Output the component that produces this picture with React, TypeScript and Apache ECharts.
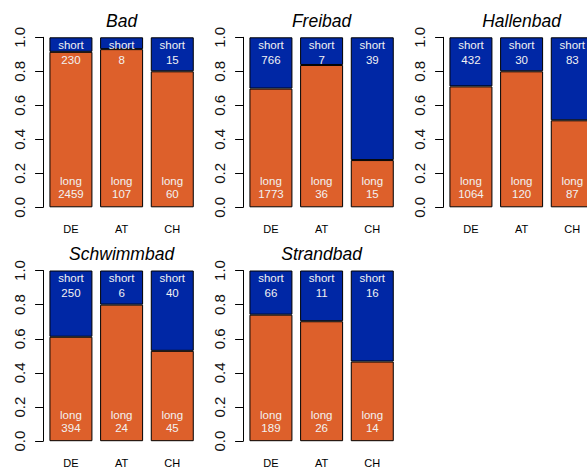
import React, { useEffect, useRef } from "react";
import * as echarts from "echarts";

const panels = ["Bad", "Freibad", "Hallenbad", "Schwimmbad", "Strandbad"];
const countries = ["DE", "AT", "CH"];
const longCounts = [
  [2459, 107, 60],
  [1773, 36, 15],
  [1064, 120, 87],
  [394, 24, 45],
  [189, 26, 14],
];
const shortCounts = [
  [230, 8, 15],
  [766, 7, 39],
  [432, 30, 83],
  [250, 6, 40],
  [66, 11, 16],
];
const yTicks = [0, 0.2, 0.4, 0.6, 0.8, 1.0];

const ORANGE = "#DD602B";
const BLUE = "#0027A5";
const FONT = "'Liberation Sans', Arial, Helvetica, sans-serif";

export default function App() {
  const ref = useRef<HTMLDivElement>(null);
  useEffect(() => {
    if (!ref.current) return;
    const chart = echarts.init(ref.current, null, { renderer: "svg" });
    const colX = [0, 200, 400];
    const rowY = [{ top: 37.3, h: 170 }, { top: 270.5, h: 170.7 }];
    const gridW = 152;
    const gridL = 45.6;
    const grids: any[] = [];
    const xAxes: any[] = [];
    const yAxes: any[] = [];
    const series: any[] = [];
    const graphics: any[] = [];
    panels.forEach((name, p) => {
      const col = p % 3;
      const row = Math.floor(p / 3);
      const left = colX[col] + gridL;
      const { top, h } = rowY[row];
      grids.push({ left, top, width: gridW, height: h, containLabel: false, outerBoundsMode: "none" });
      xAxes.push({
        type: "category",
        gridIndex: p,
        data: countries,
        axisLine: { show: false },
        axisTick: { show: false },
        axisLabel: { color: "#000", fontSize: 11, fontFamily: FONT, margin: 16 },
      });
      yAxes.push({
        type: "value",
        gridIndex: p,
        min: 0,
        max: 1,
        interval: 0.2,
        offset: 2.5,
        axisLine: { show: true, lineStyle: { color: "#000", width: 1 } },
        axisTick: { show: true, length: 8, lineStyle: { color: "#000" } },
        splitLine: { show: false },
        axisLabel: {
          rotate: 90,
          margin: 16,
          fontSize: 15,
          color: "#111",
          fontFamily: FONT,
          formatter: (v: number) => (yTicks.includes(Math.round(v * 10) / 10) ? v.toFixed(1) : ""),
        },
      });
      const totals = longCounts[p].map((l, i) => l + shortCounts[p][i]);
      series.push({
        type: "bar",
        name: "long",
        xAxisIndex: p,
        yAxisIndex: p,
        stack: "s" + p,
        barWidth: 43,
        data: longCounts[p].map((l, i) => l / totals[i]),
        itemStyle: { color: ORANGE, borderColor: "#000", borderWidth: 1 },
        label: {
          show: true,
          position: "insideBottom",
          distance: 7,
          color: "#f2f2f2",
          fontSize: 11.5,
          lineHeight: 13,
          fontFamily: FONT,
          formatter: (prm: any) => "long\n" + longCounts[p][prm.dataIndex],
        },
      });
      series.push({
        type: "bar",
        name: "short",
        xAxisIndex: p,
        yAxisIndex: p,
        stack: "s" + p,
        barWidth: 43,
        data: shortCounts[p].map((s, i) => s / totals[i]),
        itemStyle: { color: BLUE, borderColor: "#000", borderWidth: 1 },
        label: {
          show: true,
          position: "insideTop",
          distance: 0,
          color: "#f2f2f2",
          fontSize: 11.5,
          lineHeight: 15,
          fontFamily: FONT,
          formatter: (prm: any) => "short\n" + shortCounts[p][prm.dataIndex],
        },
      });
      graphics.push({
        type: "text",
        x: left + gridW / 2,
        y: row === 0 ? 21 : 254,
        style: {
          text: name,
          textAlign: "center",
          textVerticalAlign: "middle",
          fontSize: 17.5,
          fontStyle: "italic",
          fontFamily: FONT,
          fill: "#000",
        },
      });
    });
    chart.setOption({
      animation: false,
      backgroundColor: "#fff",
      grid: grids,
      xAxis: xAxes,
      yAxis: yAxes,
      series,
      graphic: graphics,
    });
    return () => chart.dispose();
  }, []);
  return (
    <div
      ref={ref}
      style={{ position: "absolute", left: 0, top: 0, width: 587, height: 470 }}
    />
  );
}
